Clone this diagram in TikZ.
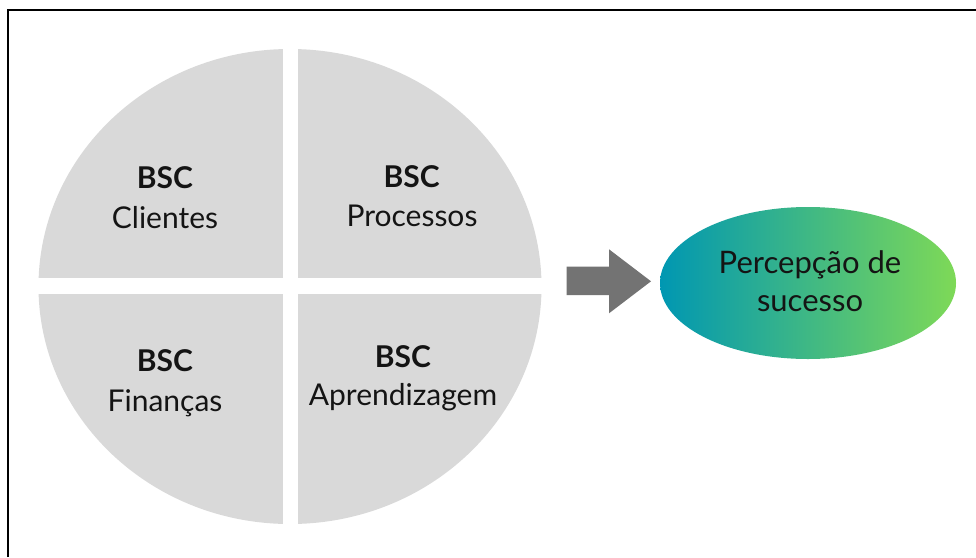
\documentclass[tikz,border=0pt]{standalone}
\usepackage{fontspec}
\setmainfont{Lato}
\usetikzlibrary{shapes.geometric}
\definecolor{quadgray}{HTML}{D9D9D9}
\definecolor{arrowgray}{HTML}{737373}
\definecolor{gradL}{HTML}{0097B2}
\definecolor{gradR}{HTML}{7ED957}
\definecolor{ink}{HTML}{141414}
\begin{document}
\begin{tikzpicture}[x=1pt,y=1pt,
  txt/.style={anchor=base, font=\fontsize{30}{34}\selectfont, text=ink, inner sep=0pt},
  boldtxt/.style={txt, font=\fontsize{30}{34}\selectfont\bfseries},
  goaltxt/.style={txt, font=\fontsize{31}{35}\selectfont},
  quad/.style={fill=quadgray},
  goalshape/.style={ellipse, draw=none, minimum width=296pt, minimum height=152pt, inner sep=0pt, left color=gradL, right color=gradR}]
\useasboundingbox (0,0) rectangle (976,-557);
\fill[white] (0,0) rectangle (976,-557);
\draw[line width=1.7pt] (8.3,-557) -- (8.3,-10) -- (976,-10);
% quartered circle
\begin{scope}
\clip (290,-286.5) ellipse [x radius=251.5pt, y radius=237.5pt];
\fill[quad] (30,-40) rectangle (282.5,-278.3);
\fill[quad] (297.5,-40) rectangle (550,-278.3);
\fill[quad] (30,-294.3) rectangle (282.5,-535);
\fill[quad] (297.5,-294.3) rectangle (550,-535);
\end{scope}
% quadrant labels
\node[boldtxt] (b1) at (165,-188.3) {BSC};
\node[txt] (t1) at (165,-228.3) {Clientes};
\node[boldtxt] (b2) at (411.7,-187.3) {BSC};
\node[txt] (t2) at (412,-226.7) {Processos};
\node[boldtxt] (b3) at (165,-371.7) {BSC};
\node[txt] (t3) at (165,-411.7) {Finanças};
\node[boldtxt] (b4) at (403,-367.3) {BSC};
\node[txt] (t4) at (403,-405) {Aprendizagem};
% block arrow
\fill[arrowgray] (566.7,-266.7) -- (609,-266.7) -- (609,-249.3) -- (651,-281.3) -- (609,-313.3) -- (609,-295) -- (566.7,-295) -- cycle;
% goal ellipse
\node[goalshape] (goal) at (808,-283) {};
\node[goaltxt] (g1) at (810,-273) {Percepção de};
\node[goaltxt] (g2) at (810,-311.7) {sucesso};
\end{tikzpicture}
\end{document}
